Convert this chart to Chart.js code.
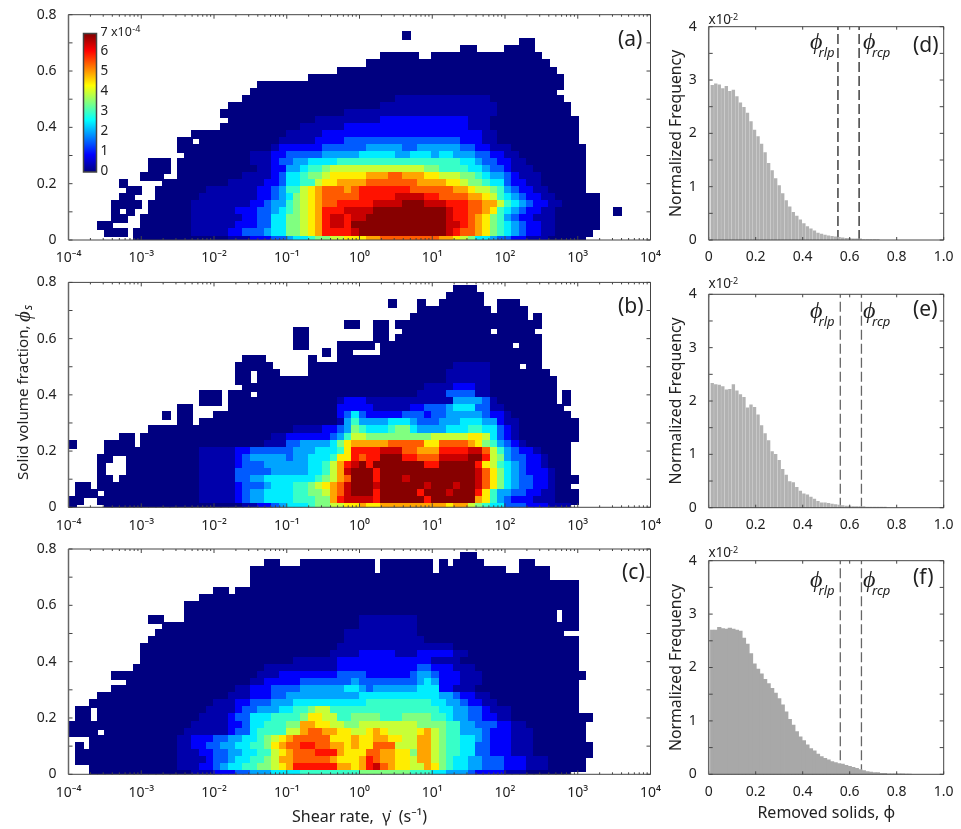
<!DOCTYPE html>
<html><head><meta charset="utf-8">
<style>html,body{margin:0;padding:0;background:#fff;width:961px;height:829px;overflow:hidden}canvas{position:absolute;display:block}</style>
<script src="https://cdn.jsdelivr.net/npm/chart.js@4/dist/chart.umd.min.js"></script>
</head><body>
<script>
// Each row: top (phi_s near 0.8) to bottom; 8 groups = 8 decades of shear rate, 10 bins per decade.
// Characters: '.' empty, 0-9,a-e = index into levelValues (x 1e-4).
const levelValues = [0,0.3,0.85,1.5,2,2.5,3,3.5,4,4.5,5,5.5,6,6.5,6.95];
const heatA = [
"",
"",
".......... .......... .......... .......... ......0...",
".......... .......... .......... .......... .......... .......... ..00",
".......... .......... .......... .......... .......... ....00.... 0000",
".......... .......... .......... .......... ...00000.. 0000000000 00000",
".......... .......... .......... .......... .000000000 0000000000 000000",
".......... .......... .......... .......000 0000000000 0000000000 0000000",
".......... .......... .......... ...0000000 0000000000 0000000000 00000000",
".......... .......... ......0000 0000000000 0000000000 0000000000 00000000",
".......... .......... .....00000 0000000000 0000000000 0000000000 0000000",
".......... .......... ....000000 0000000000 0000011111 1111111100 00000000",
".......... .......... ..00000000 0000000000 0001111111 1111111110 000000000",
".......... .......... .000000000 0000000011 1111111111 1111111110 000000000",
".......... .......... ..00000000 0000111111 1112222222 2222211100 0000000000",
".......... .......... .000000000 0011111122 2222222222 2222211100 0000000000",
".......... .......000 0000000000 1111122222 2222222222 2222222110 0000000000",
".......... .....00.00 0000000001 1111222233 3333333333 3333222110 0000000000",
".......... .....00000 0000000012 2222233333 3444443344 4444332211 1000000000 0",
".......... ......0000 0000011122 3333344444 5555544555 4554443322 1100000000 0",
".......... .000.00000 0000011123 3445555666 6666666666 6666554332 2110000000 0",
".......... .000.00000 0000001122 4456678888 8888888887 7666655433 2111000000 0",
".......... 000..00000 0000111123 5567789999 9aaabbaaa9 9888776544 3211100000 0",
".......0.. ...0000000 0011111223 5566899aaa abbbbbbbaa aa99877655 3221100000 0",
"........00 ..00000001 1111112234 6689abbbab cccccccbbb bbbaa98876 4322110000 0",
".......00. ..00000011 1111112234 5789abbbbb cccccddddc cbbbbaa986 5432211000 000",
"......0000 .000000111 1111122344 6789abbccc ccddddeeed ddcccbbaa8 6543221100 000",
"......0.0. .000000111 1112223345 6789acccdd ddeeeeeeee eedccbba96 5432211000 000..0",
"......00.. 0000000111 1111223355 7789acddcd deeeeeeeee eedccba976 4322111000 000",
"....00.... 0000000111 1112223355 7789acddce eeeeeeeeee eeddcba976 5432211000 000",
".....000.0 0000000111 1122333455 7789accccd eeeeeeeeee eedcbba976 5432211000 00",
".........0 0000000000 0011122233 4556778899 9aabbbbbbb baa9875543 3221110000 0"
];
const heatB = [
"",
".......... .......... .......... .......... .......... ...000....",
".......... .......... .......... .......... .......... ..00000...",
".......... .......... .......... .......... ....0...0. .000000..0 00",
".......... .......... .......... .......... ........00 00000000.0 000",
".......... .......... .......... .......... .......000 0000000000 000.0",
".......... .......... .......... ........00 ..00.00000 0000000000 00000",
".......... .......... .......... .00....... ..00..0000 00000000.0 0000",
".......... .......... .......... .00....... ..00.00000 0000000000 00000",
".......... .......... .......... .00....000 00.0000000 0000000000 0.000",
".......... .......... .......... .....0.00. ...0000000 0000000000 00000",
".......... .......... ....000... ...0...000 0000000000 0000000000 00000",
".......... .......... ...00000.. ...0000000 0000000000 0001111100 00.00",
".......... .......... ...00.000. ...0000000 0000000000 0011111100 000000",
".......... .......... ...00.0000 0000000000 0000000000 0011111100 0000000",
".......... .......... ....000000 0000000000 0000000001 1112221100 0000000",
".......... ........00 0.000.0000 0000000000 0000000011 1133331100 0000000.0.",
".......... ........00 0.00000000 0000000122 2111111111 1114444310 0000000.0.",
".......... .....00... ..00000000 0000000222 2211111223 3345553311 00000000",
".......... ...0.00... 0000000000 0000000235 3222223332 3344444322 100000000",
".......... .....00.00 0000000000 0000000146 4444555433 3444555442 1100000000",
".......... .000000000 0000000000 0111122347 6555677544 4455566553 2100000000",
".......00. 0000000000 0000000011 2222223468 8777777777 8888899853 2100000000",
"0....0000. 0000000000 0000000111 334444579a aaaabbbbb9 9bbbba9764 321000000",
".....00000 0000000011 1112233333 344455569c cccdddbbaa accccddb86 432210000",
"....00..00 0000000011 1112344444 344555699c bcceeeccbb bddddeec87 433221000",
"....0...00 0000000011 1112333444 4445568acd eceeeeeeec ceeeeec986 543221000",
"....0...00 0000000011 1113333344 4445568ade eeceeeeeee eeeeeedb97 543222100",
"....00.000 0000000011 1113344555 5555678abe eeceeedeee eeeeeedb97 543322100 0",
".00.000000 0000000011 1112333455 566789abde eedeeeeeed eeedeedb97 543322100",
".000.00000 0000000011 1112344555 566778abde eeceeeeece eedeeec964 4332211000",
"00..000000 0000000011 1112344555 566677acdd ddceeeeeec eeeeeea964 3222111000",
"0....00000 0000000000 0000112234 5556778899 a99aaaaaaa aa9aa87655 333222111"
];
const heatC = [
"",
".......... .......... .......... .......... .......... ....00....",
".......... .......... .......00. ..00000000 00.0000000 .0.0000... ..00",
".......... .......... .....00000 0000000000 00.0000000 .000000000 ..0000",
".......... .......... .....00000 0000000000 0000000000 0000000000 000000",
".......... .......... .....00000 0000000000 0000000000 0000000000 0000000000",
".......... .......... 00.0000000 0000000000 0000000000 0000000000 0000000000",
".......... ........00 0000000000 0000000000 0000000000 0000000000 0000000000",
".......... ......0000 0000000000 0000000000 0000000000 0000000000 0000000000",
".......... ......0000 0000000000 0000000000 0000000000 0000000000 0000000.00",
".......... .00...0000 0000000000 0000000000 1111111100 0000000000 0000000.00",
".......... ...0000000 0000000000 0000000000 1111111100 0000000000 0000000000",
".......... ..00000000 0000000000 0000000011 1111111100 0000000000 00000000..",
".......... .000000000 0000000000 0000000011 1111111110 0000000000 0000000000",
".......... 0000000000 0000000000 0000000111 1111111111 1110000000 0000000000",
".......... 0000000000 0000000000 0000001111 2222211122 2221100000 0000000000",
".......... 0000000000 0000000000 0111111222 2222222222 1111000000 0000000000",
".........0 0000000000 0000000111 1111111222 2222222233 2221110000 0000000000",
"......0000 0000000000 0000001112 2222222333 3222222344 3222111000 0000000000 0",
"........00 0000000000 0000011222 2233333334 3333333345 4222111000 0000000000",
"......0000 0000000000 0001122233 3344444455 4344444455 5221110000 0000000000",
"....000000 0000000000 0011122233 4444444444 5555555555 5443221100 0000000000",
"...0000000 0000000000 1112233344 4555555555 5666666666 5544322110 0000000000",
".00.000000 0000000001 1112334445 5667886666 6666666666 6554433211 1000000000",
".00.000000 0000000011 1123355566 6679988667 7776667777 6654433221 1000000000 00",
"0000000000 0000000111 1122355666 77aa998877 8888888877 7766443332 2110000000 0",
"0000.00000 0000001111 1123356666 88abbaa998 89a988889a 8766444322 2111000000 0",
"...0000000 0000011222 3344556789 abbbbb999a 99aa9988aa 8766554322 2111000000 0",
".0.0000000 0000011223 344556679a bbccbbaa9a 99bbb888aa 8766553322 2111000000 00",
".000000000 0000011122 3344556689 abbbccca99 9bbaa997aa 8766553322 2111000000 00",
".000000000 0000011112 334556678a abbbbba999 acbaa998aa 8765544333 2221110000 0",
"...0000000 0000011122 3455667789 accccccaa9 acdba9988a 9765544333 2221110000 0",
"...0000000 0000000111 2223344455 5566666666 7777777666 5544432222 111000000"
];
// Normalized frequency (x10^-2) for bins 0.015 wide
const histD = [2.90,2.93,2.91,2.84,2.88,2.79,2.81,2.69,2.57,2.49,2.38,2.22,2.06,1.94,1.80,1.64,1.44,1.30,1.15,1.02,0.87,0.74,0.62,0.52,0.45,0.38,0.31,0.25,0.21,0.17,0.13,0.11,0.09,0.08,0.07,0.06,0.05,0.04,0.03,0.03,0.02,0.02,0.02,0.01,0.01,0.01,0.01,0.01];
const histE = [2.33,2.31,2.30,2.27,2.21,2.22,2.31,2.19,2.12,2.07,1.87,1.93,1.88,1.74,1.54,1.39,1.26,1.05,1.00,0.89,0.72,0.61,0.49,0.47,0.38,0.31,0.26,0.24,0.20,0.16,0.12,0.09,0.09,0.08,0.07,0.06,0.05,0.04,0.03,0.03,0.02,0.02,0.02,0.02,0.01,0.01,0.01,0.01,0.01,0.01];
const histF = [2.70,2.70,2.75,2.73,2.72,2.74,2.72,2.70,2.68,2.55,2.44,2.26,2.07,1.97,1.88,1.78,1.70,1.61,1.52,1.42,1.30,1.17,1.03,0.92,0.80,0.70,0.63,0.55,0.48,0.44,0.38,0.33,0.30,0.27,0.24,0.22,0.20,0.19,0.17,0.15,0.13,0.11,0.09,0.07,0.05,0.04,0.03,0.03,0.02,0.02,0.01,0.01,0.01,0.01,0.01,0.005,0.005];
const critD = [0.55,0.64], critE = [0.56,0.65], critF = [0.56,0.65];
const decades = [1e-4,1e-3,1e-2,1e-1,1e0,1e1,1e2,1e3,1e4];
const decadeLabels = ["10⁻⁴","10⁻³","10⁻²","10⁻¹","10⁰","10¹","10²","10³","10⁴"];
const minorMultiples = [2,3,4,5,6,7,8,9];
const phiMajor = [0,0.2,0.4,0.6,0.8];
const phiAll = [0,0.1,0.2,0.3,0.4,0.5,0.6,0.7,0.8];
const freqMajor = [0,1,2,3,4];
const freqAll = [0,0.5,1,1.5,2,2.5,3,3.5,4];
const removedTicks = [0,0.2,0.4,0.6,0.8,1.0];
const colorbarTicks = [0,1,2,3,4,5,6];

const FONT = "'Noto Sans'";
const INK = "#222";
Chart.defaults.font.family = FONT;
Chart.defaults.color = INK;

function jet(t){const c=v=>Math.round(255*Math.max(0,Math.min(1,v)));
  return `rgb(${c(1.5-Math.abs(4*t-3))},${c(1.5-Math.abs(4*t-2))},${c(1.5-Math.abs(4*t-1))})`;}
const LEVELS="0123456789abcde";

function mk(left,top,w,h){const c=document.createElement('canvas');c.width=w;c.height=h;
  c.style.left=left+'px';c.style.top=top+'px';c.style.width=w+'px';c.style.height=h+'px';document.body.appendChild(c);return c;}

function frame(opts){return {id:'frame',afterDatasetsDraw(ch){
  const {ctx,chartArea:a,scales:{x,y}}=ch;ctx.save();ctx.strokeStyle="#444";ctx.lineWidth=1;
  const seg=(x0,y0,x1,y1)=>{ctx.beginPath();ctx.moveTo(x0,y0);ctx.lineTo(x1,y1);ctx.stroke();};
  opts.xTicks.forEach(([v,l])=>{const p=x.getPixelForValue(v);seg(p,a.bottom,p,a.bottom-l);seg(p,a.top,p,a.top+l);});
  opts.yTicks.forEach(([v,l])=>{const p=y.getPixelForValue(v);seg(a.left,p,a.left+l,p);seg(a.right,p,a.right-l,p);});
  seg(a.left,a.top,a.right,a.top);seg(a.right,a.top,a.right,a.bottom);seg(a.left,a.bottom,a.right,a.bottom);
  ctx.strokeStyle="#666";ctx.lineWidth=1.5;seg(a.left,a.top,a.left,a.bottom);
  ctx.restore();
}};}
function textPlugin(items){return {id:'notes',afterDraw(ch){const c=ch.ctx;c.save();
  items.forEach(t=>{c.save();c.translate(t.x,t.y);if(t.rot)c.rotate(t.rot);c.font=t.font;c.fillStyle=t.color||INK;
    c.textAlign=t.align||'left';c.textBaseline='middle';c.fillText(t.s,0,0);c.restore();});c.restore();}};}

const xMinorList=[];decades.slice(0,8).forEach(d=>minorMultiples.forEach(m=>xMinorList.push(d*m)));

function heatChart(left,top,w,h,padTop,marginB,rows,cfg){
  const cellW=582/80+1, cellH=281.5*0.025+1, stripH=281.5*0.0125+1;
  const imgs={};
  const img=(lv,strip)=>{const k=lv+(strip?'s':'');if(!imgs[k]){const c=document.createElement('canvas');
    c.width=Math.ceil(cellW);c.height=Math.ceil(strip?stripH:cellH);const g=c.getContext('2d');g.fillStyle=jet(levelValues[LEVELS.indexOf(lv)]/7);g.fillRect(0,0,c.width,c.height);imgs[k]=c;}return imgs[k];};
  const pts=[];
  rows.forEach((row,ri)=>{const s=row.replace(/ /g,'');const k=rows.length-1-ri;
    for(let i=0;i<s.length&&i<80;i++){if(s[i]==='.')continue;
      pts.push({x:Math.pow(10,-4+(i+0.5)/10),y:k===0?0.00625:k*0.025,lv:s[i],strip:k===0});}});
  const plugins=[frame({xTicks:decades.map(v=>[v,4]).concat(xMinorList.map(v=>[v,2])),yTicks:phiAll.map(v=>[v,4])}),textPlugin(cfg.texts)];
  if(cfg.extra)plugins.unshift(cfg.extra);
  new Chart(mk(left,top,w,h),{type:'scatter',
    data:{datasets:[{data:pts,showLine:false,pointRadius:2,pointHoverRadius:2,
      pointStyle:c=>c.raw?img(c.raw.lv,c.raw.strip):'rect'}]},
    plugins,
    options:{responsive:false,animation:false,devicePixelRatio:1,events:[],
      layout:{padding:{top:padTop,right:w-650.5,left:0,bottom:0}},
      plugins:{legend:{display:false},tooltip:{enabled:false}},
      scales:{
        x:{type:'logarithmic',min:1e-4,max:1e4,grid:{display:false},border:{display:false},
          afterBuildTicks:s=>{s.ticks=decades.map(v=>({value:v,major:true}));},
          afterFit:s=>{s.height=marginB;},
          ticks:{autoSkip:false,maxRotation:0,minRotation:0,padding:2,font:{size:14},color:INK,
            callback:v=>decadeLabels[decades.findIndex(d=>Math.abs(Math.log10(d)-Math.log10(v))<1e-6)]},
          title:cfg.xTitle?{display:true,text:cfg.xTitle,font:{size:16},color:INK,padding:{top:0,bottom:2}}:{display:false}},
        y:{min:0,max:0.8,grid:{display:false},border:{display:false},
          afterBuildTicks:s=>{s.ticks=phiMajor.map(v=>({value:v}));},
          afterFit:s=>{s.width=68.5;},
          ticks:{padding:4,font:{size:14},color:INK,callback:v=>v===0?'0':v.toFixed(1)}}
      }}});
}

function histChart(top,h,padTop,marginB,vals,crit,cfg){
  const binWidth=0.015;
  const left=660,w=301;
  const bars=vals.map((y,i)=>({x:(i+1)*binWidth,y}));
  const dash=v=>({type:'line',data:[{x:v,y:0},{x:v,y:4}],borderColor:cfg.dash,borderWidth:1.3,borderDash:[10,4],pointRadius:0,fill:false,tension:0});
  new Chart(mk(left,top,w,h),{type:'bar',
    data:{datasets:[{type:'bar',data:bars,backgroundColor:cfg.bar,barThickness:cfg.thick,borderWidth:0},dash(crit[0]),dash(crit[1])]},
    plugins:[frame({xTicks:removedTicks.map(v=>[v,3]),yTicks:freqAll.map(v=>[v,4])}),textPlugin(cfg.texts)],
    options:{responsive:false,animation:false,devicePixelRatio:1,events:[],
      layout:{padding:{top:padTop,right:w-283.7,left:0,bottom:0}},
      plugins:{legend:{display:false},tooltip:{enabled:false}},
      scales:{
        x:{type:'linear',min:0,max:1,offset:false,grid:{display:false},border:{display:false},
          afterBuildTicks:s=>{s.ticks=removedTicks.map(v=>({value:v}));},
          afterFit:s=>{s.height=marginB;},
          ticks:{autoSkip:false,maxRotation:0,minRotation:0,padding:1,font:{size:14},color:INK,callback:v=>v===0?'0':v.toFixed(1)},
          title:cfg.xTitle?{display:true,text:cfg.xTitle,font:{size:16},color:INK,padding:{top:0,bottom:6}}:{display:false}},
        y:{min:0,max:4,grid:{display:false},border:{display:false},
          afterBuildTicks:s=>{s.ticks=freqMajor.map(v=>({value:v}));},
          afterFit:s=>{s.width=48.7;},
          ticks:{padding:4,font:{size:14},color:INK,callback:v=>String(v)},
          title:{display:true,text:'Normalized Frequency',font:{size:15.8},color:INK,padding:{top:7,bottom:0}}}
      }}});
}

const colorbar={id:'colorbar',afterDatasetsDraw(ch){const c=ch.ctx;c.save();
  const x0=83.5,x1=96.5,y0=33.5,y1=172;const g=c.createLinearGradient(0,y1,0,y0);
  for(let i=0;i<=32;i++)g.addColorStop(i/32,jet(i/32));
  c.fillStyle=g;c.fillRect(x0,y0,x1-x0,y1-y0);c.strokeStyle="#444";c.lineWidth=1.5;c.strokeRect(x0,y0,x1-x0,y1-y0);
  c.fillStyle=INK;c.font="13.5px "+FONT;c.textBaseline='middle';c.textAlign='left';
  colorbarTicks.forEach(v=>{c.fillText(String(v),100.5,171.5-v*20);});
  c.font="12.5px "+FONT;const base="7 x10";c.fillText(base,100.5,32);const bw=c.measureText(base).width;
  c.font="9px "+FONT;c.fillText("-4",100.5+bw+0.5,29);
  c.restore();}};

const panelFont="21px "+FONT;
heatChart(0,0,670,270,14.7,30,heatA,{extra:colorbar,texts:[{s:'(a)',x:618,y:40,font:panelFont}]});
heatChart(0,270,670,265,11,27.7,heatB,{texts:[
  {s:'(b)',x:618,y:37,font:panelFont},
  {s:'Solid volume fraction, ',x:24,y:210,rot:-Math.PI/2,font:"15.2px "+FONT},
  {s:'ϕ',x:24,y:52,rot:-Math.PI/2,font:"italic 21px 'Liberation Serif'"},
  {s:'s',x:29,y:40,rot:-Math.PI/2,font:"italic 12px "+FONT}]});
heatChart(0,535,670,294,14,54.7,heatC,{xTitle:'Shear rate,  γ̇  (s⁻¹)',texts:[{s:'(c)',x:622,y:38,font:panelFont}]});

const phiF="italic 24px 'Liberation Serif'", subF="italic 13px "+FONT;
function histNotes(label,ly,expY,phiY,top,phiX2){const o=y=>y-top;return [
  {s:'x10',x:48.5,y:o(expY),font:"13.5px "+FONT},{s:'-2',x:70,y:o(expY-3),font:"9px "+FONT},
  {s:label,x:253,y:o(ly),font:panelFont},
  {s:'ϕ',x:150,y:o(phiY),font:phiF},{s:'rlp',x:158.5,y:o(phiY+10),font:subF},
  {s:'ϕ',x:phiX2,y:o(phiY),font:phiF},{s:'rcp',x:phiX2+9,y:o(phiY+10),font:subF}];}
histChart(0,270,26.7,30,histD,critD,{bar:'#b2b2b2',thick:2.7,dash:'#222',texts:histNotes('(d)',46,20,43,0,203)});
histChart(270,265,24.3,27.3,histE,critE,{bar:'#b2b2b2',thick:2.7,dash:'#666',texts:histNotes('(e)',310,284,312,270,203)});
histChart(535,294,25.7,54.7,histF,critF,{bar:'#a8a8a8',thick:3.6,dash:'#666',xTitle:'Removed solids, ϕ',texts:histNotes('(f)',578,553,581,535,203)});
</script>
</body></html>
